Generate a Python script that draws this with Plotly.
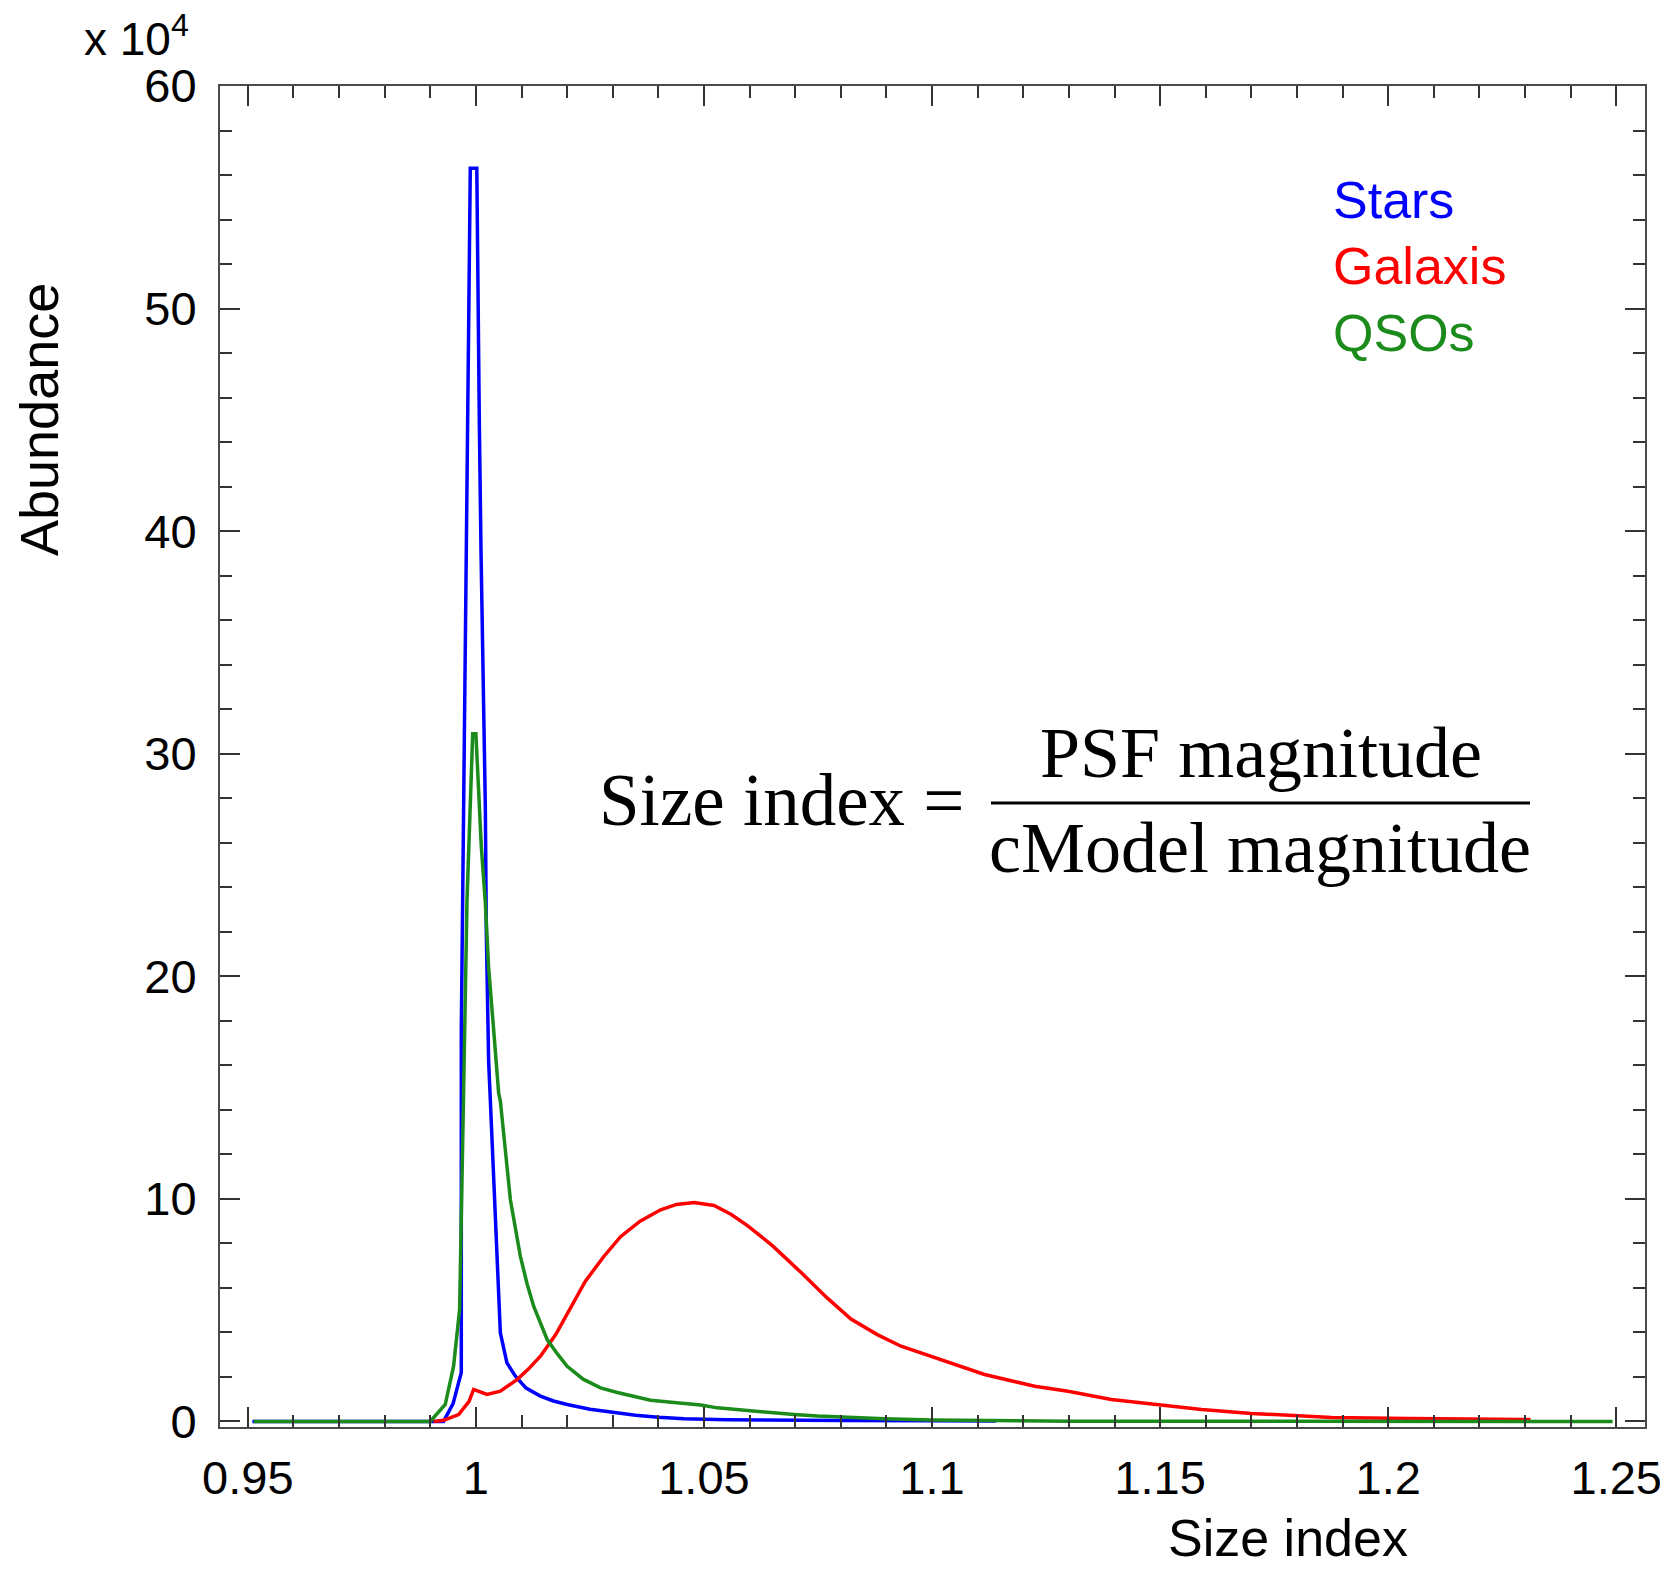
import plotly.graph_objects as go

# ---- data, abundance in units of 1e4 ----
stars_x = [0.951, 0.9929, 0.9950, 0.9968, 0.9968, 0.99717, 0.99768, 0.99805, 0.99840, 0.99877,
           1.0002, 1.0004, 1.00075, 1.00112, 1.00156, 1.00207, 1.00229, 1.00279, 1.00317, 1.0043,
           1.00536, 1.0068, 1.00866, 1.0110, 1.01415, 1.0170, 1.02001, 1.0250, 1.03024, 1.0350,
           1.0400, 1.04561, 1.0550, 1.0650, 1.0800, 1.1000, 1.1140]
stars_y = [0, 0, 0.8, 2.2, 17.6, 25.4, 33.1, 40.8, 48.5, 56.3,
           56.3, 50.6, 44.9, 39.1, 33.4, 27.6, 21.9, 16.2, 14.4, 9.2,
           3.98, 2.63, 2.03, 1.5, 1.14, 0.92, 0.76, 0.55, 0.39, 0.28,
           0.19, 0.12, 0.08, 0.05, 0.04, 0.03, 0.02]

gal_x = [0.99072, 0.99292, 0.99621, 0.99850, 0.99950, 1.00244, 1.00536, 1.00903, 1.01150, 1.01415,
         1.01750, 1.02050, 1.02400, 1.02800, 1.03171, 1.03600, 1.04050, 1.04400, 1.04781, 1.05220,
         1.05600, 1.05953, 1.06500, 1.07124, 1.07700, 1.08222, 1.08800, 1.09321, 1.09900, 1.10419,
         1.11151, 1.1225, 1.1298, 1.1393, 1.1496, 1.1591, 1.1700, 1.1810, 1.1876, 1.2045, 1.2312]
gal_y = [0, 0.05, 0.31, 0.9, 1.44, 1.21, 1.36, 1.88, 2.35, 2.93,
         3.9, 5.0, 6.3, 7.4, 8.3, 9.0, 9.51, 9.75, 9.84, 9.7,
         9.3, 8.8, 7.9, 6.7, 5.55, 4.6, 3.9, 3.38, 2.98, 2.63,
         2.11, 1.58, 1.36, 0.99, 0.76, 0.54, 0.36, 0.25, 0.18, 0.13, 0.09]

qso_x = [0.9513, 0.9900, 0.99328, 0.99511, 0.99643, 0.99680, 0.99730, 0.99805, 0.99877, 0.99930,
         1.0000, 1.00060, 1.00119, 1.00207, 1.00279, 1.00389, 1.00499, 1.00536, 1.0065, 1.00756,
         1.00975, 1.0112, 1.01268, 1.01562, 1.0180, 1.02001, 1.0235, 1.02732, 1.0310, 1.03463,
         1.0383, 1.0440, 1.04929, 1.05295, 1.0600, 1.06977, 1.07491, 1.0820, 1.08954, 1.1000,
         1.1137, 1.1300, 1.2492]
qso_y = [0, 0, 0.76, 2.48, 5.03, 8.47, 14.75, 23.4, 27.2, 30.9,
         30.9, 28.4, 25.8, 23.3, 20.4, 17.6, 14.75, 14.4, 12.0, 9.96,
         7.42, 6.2, 5.17, 3.68, 3.0, 2.48, 1.9, 1.51, 1.3, 1.14,
         0.95, 0.84, 0.74, 0.61, 0.47, 0.31, 0.24, 0.18, 0.12, 0.07,
         0.03, 0.01, 0]

series_names = ["Stars", "Galaxis", "QSOs"]
series_colors = ["#0000ff", "#ff0000", "#1b8b1b"]

x_tickvals = [0.95, 1.0, 1.05, 1.1, 1.15, 1.2, 1.25]
x_ticktext = ["0.95", "1", "1.05", "1.1", "1.15", "1.2", "1.25"]
y_tickvals = [0, 10, 20, 30, 40, 50, 60]
y_ticktext = ["0", "10", "20", "30", "40", "50", "60"]

# ---- layout geometry (page pixels; the page body has an 8px margin) ----
PAGE_W, PAGE_H = 1668, 1572
OFF = 8
L, R, T, B = 220, 1645, 86, 1427


def px(xp):
    return (xp - L) / (R - L)


def py(yp):
    return (B - yp) / (B - T)


fig = go.Figure()
for xs, ys, name, col in [(stars_x, stars_y, series_names[0], series_colors[0]),
                          (gal_x, gal_y, series_names[1], series_colors[1]),
                          (qso_x, qso_y, series_names[2], series_colors[2])]:
    fig.add_trace(go.Scatter(x=xs, y=ys, mode="lines", name=name,
                             line=dict(color=col, width=3.5), showlegend=False))

axis_common = dict(showline=True, linecolor="#4a4a4a", linewidth=2, mirror="allticks",
                   ticks="inside", ticklen=20, tickwidth=2, tickcolor="#333333",
                   showgrid=False, zeroline=False, automargin=False,
                   tickfont=dict(family="Liberation Sans, Arial, sans-serif", size=47, color="black"))

fig.update_xaxes(range=[0.9439, 1.2563], tickvals=x_tickvals, ticktext=x_ticktext,
                 minor=dict(tick0=0.95, dtick=0.01, ticks="inside", ticklen=12,
                            tickwidth=2, tickcolor="#333333"),
                 ticklabelstandoff=9, **axis_common)
fig.update_yaxes(range=[-0.25, 60], tickvals=y_tickvals, ticktext=y_ticktext,
                 minor=dict(tick0=0, dtick=2, ticks="inside", ticklen=12,
                            tickwidth=2, tickcolor="#333333"),
                 ticklabelstandoff=12, **axis_common)

sans = "Liberation Sans, Arial, sans-serif"
serif = "Liberation Serif, Times New Roman, serif"
ann = []
ann.append(dict(text="x 10<sup>4</sup>", x=px(82), y=py(36), xanchor="left", yanchor="middle",
                font=dict(family=sans, size=46, color="black")))
ann.append(dict(text="Abundance", x=px(39), y=py(420), textangle=-90, xanchor="center",
                yanchor="middle", font=dict(family=sans, size=54, color="black")))
ann.append(dict(text="Size index", x=px(1288), y=py(1538), xanchor="center", yanchor="middle",
                font=dict(family=sans, size=52, color="black")))
for name, col, yp in zip(series_names, series_colors, [200, 266, 333]):
    ann.append(dict(text=name, x=px(1331), y=py(yp), xanchor="left", yanchor="middle",
                    font=dict(family=sans, size=52, color=col)))
ann.append(dict(text="Size index =", x=px(782), y=py(800), xanchor="center", yanchor="middle",
                font=dict(family=serif, size=73, color="black")))
ann.append(dict(text="PSF magnitude", x=px(1261), y=py(753), xanchor="center", yanchor="middle",
                font=dict(family=serif, size=72, color="black")))
ann.append(dict(text="cModel magnitude", x=px(1260), y=py(848), xanchor="center", yanchor="middle",
                font=dict(family=serif, size=72, color="black")))
for a in ann:
    a.update(xref="paper", yref="paper", showarrow=False)

fig.update_layout(
    width=PAGE_W - OFF, height=PAGE_H - OFF,
    margin=dict(l=L - OFF, r=PAGE_W - R, t=T - OFF, b=PAGE_H - B, pad=0),
    paper_bgcolor="white", plot_bgcolor="white",
    annotations=ann,
    shapes=[dict(type="line", xref="paper", yref="paper", x0=px(991), x1=px(1530),
                 y0=py(803), y1=py(803), line=dict(color="black", width=3))],
)

fig.write_html("out.html")
